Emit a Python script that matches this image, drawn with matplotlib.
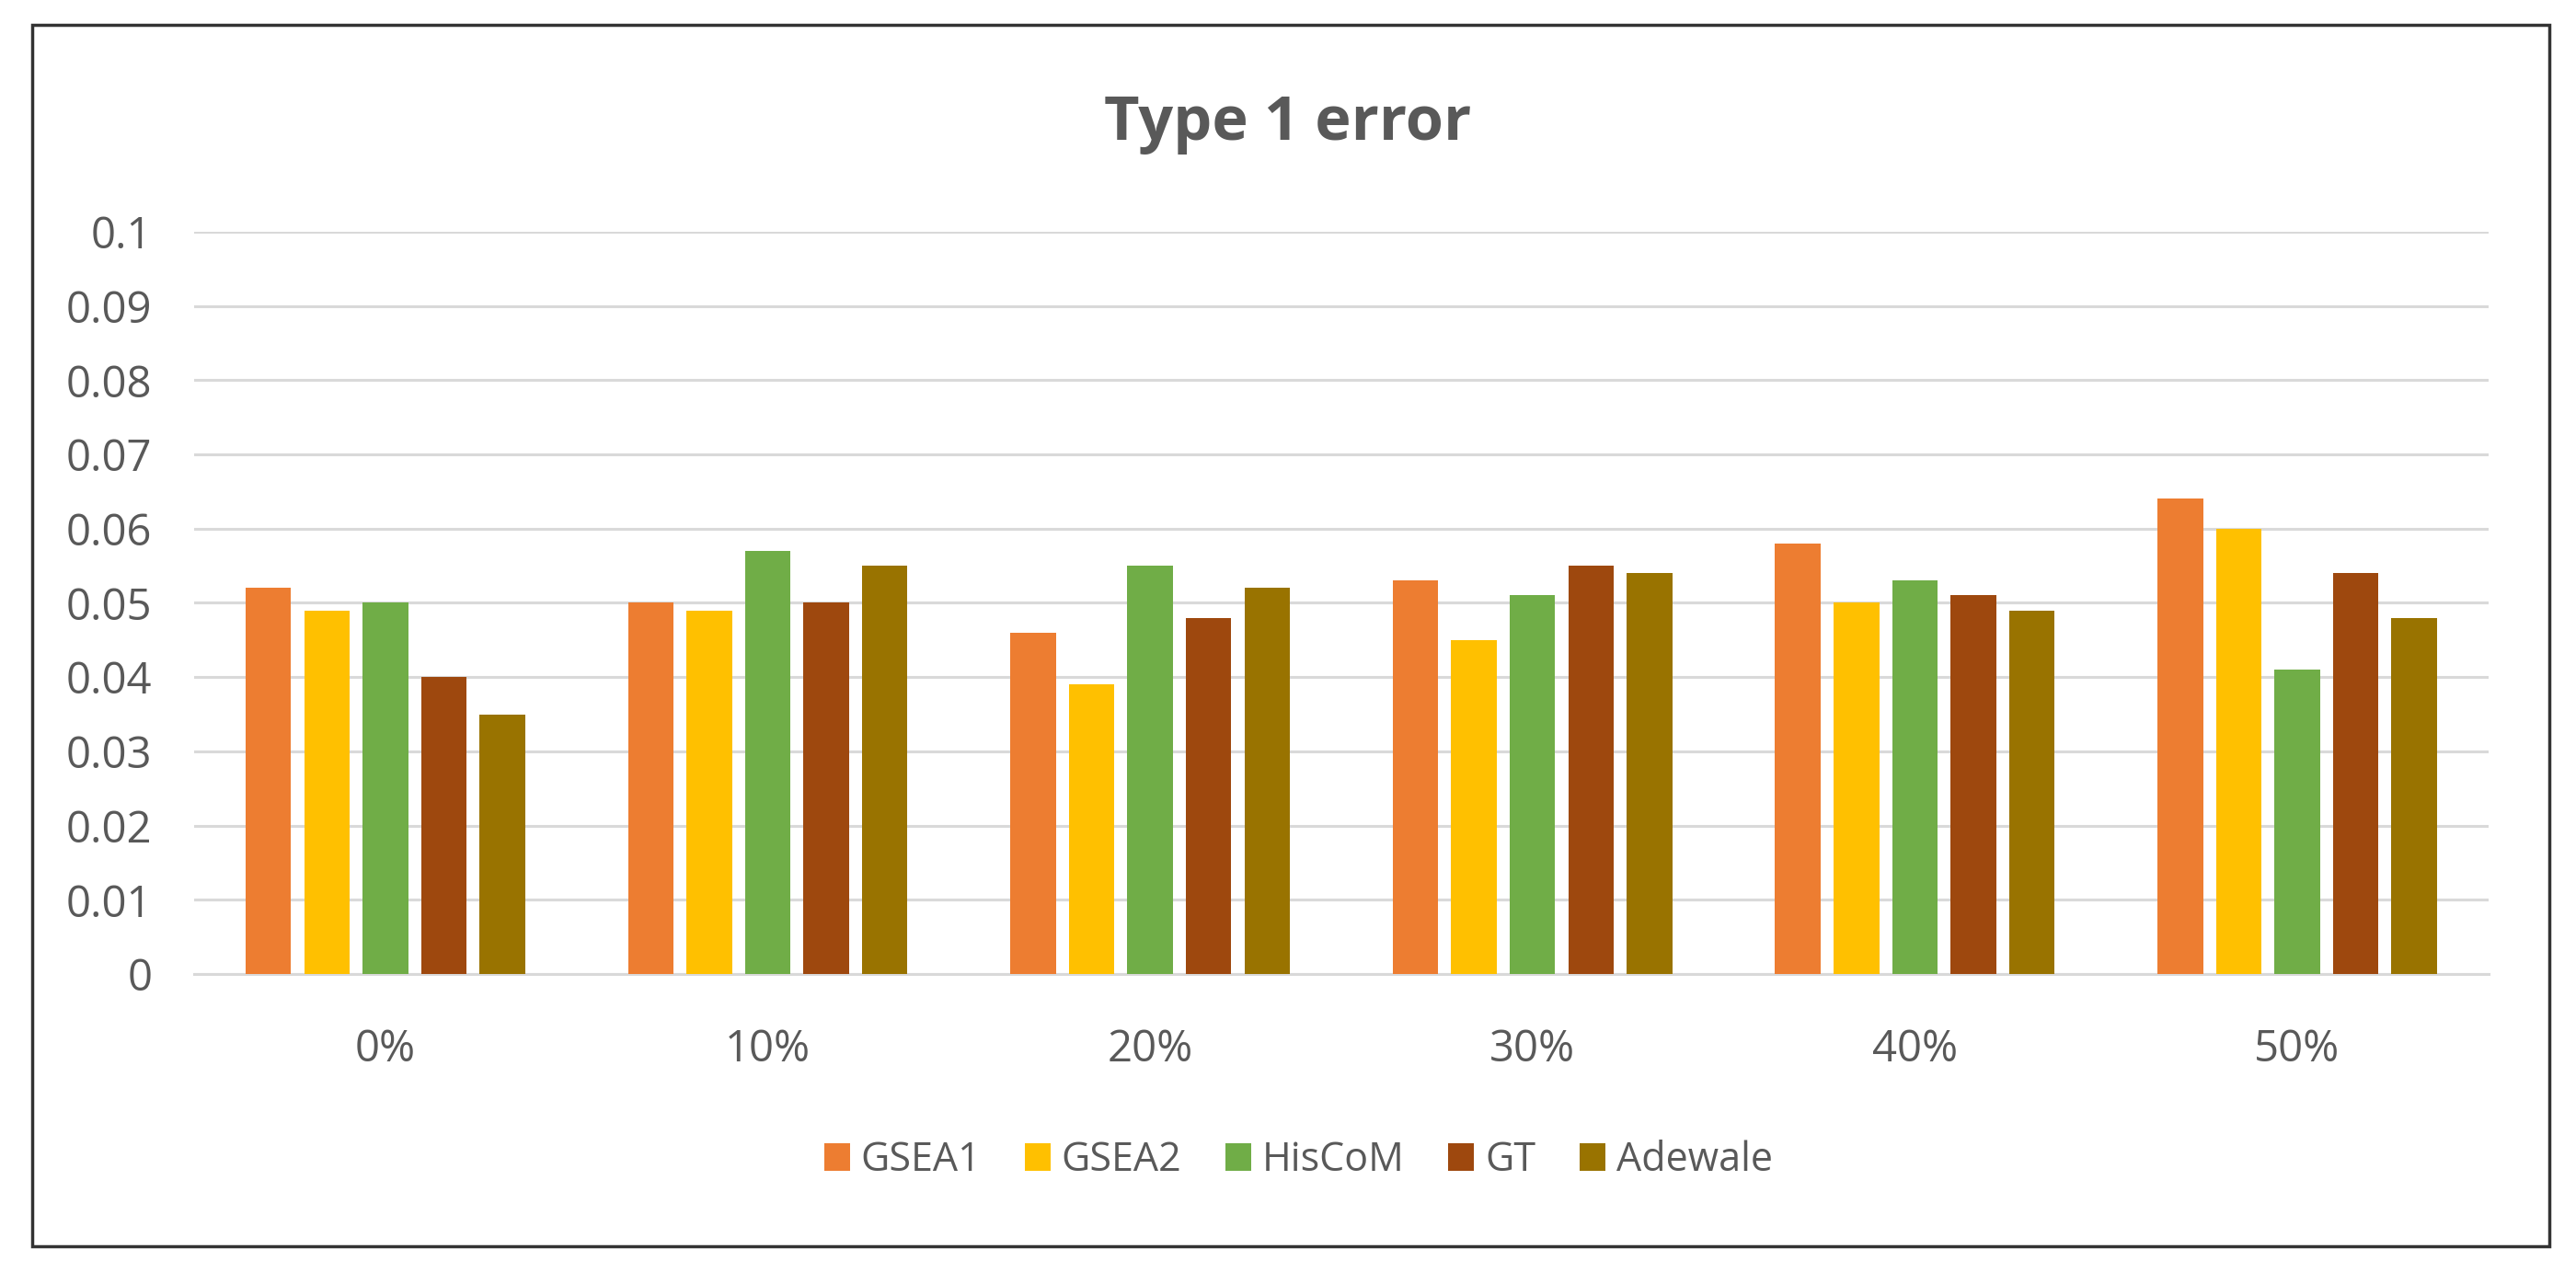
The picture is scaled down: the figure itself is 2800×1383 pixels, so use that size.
import matplotlib
matplotlib.use("Agg")
from matplotlib import pyplot as plt
from matplotlib.patches import Rectangle
import numpy as np

# data
categories = ["0%", "10%", "20%", "30%", "40%", "50%"]
methods = ["GSEA1", "GSEA2", "HisCoM", "GT", "Adewale"]
gsea1 = [0.052, 0.050, 0.046, 0.053, 0.058, 0.064]
gsea2 = [0.049, 0.049, 0.039, 0.045, 0.050, 0.060]
hiscom = [0.050, 0.057, 0.055, 0.051, 0.053, 0.041]
gt = [0.040, 0.050, 0.048, 0.055, 0.051, 0.054]
adewale = [0.035, 0.055, 0.052, 0.054, 0.049, 0.048]
yticks = [0, 0.01, 0.02, 0.03, 0.04, 0.05, 0.06, 0.07, 0.08, 0.09, 0.1]
ytick_labels = ["0", "0.01", "0.02", "0.03", "0.04", "0.05", "0.06", "0.07", "0.08", "0.09", "0.1"]

series = [gsea1, gsea2, hiscom, gt, adewale]
colors = ["#ED7D31", "#FFC000", "#70AD47", "#9E480E", "#997300"]
grey = "#595959"

plt.rcParams['font.family'] = ["Open Sans", "DejaVu Sans"]

fig = plt.figure(figsize=(28, 13.83), dpi=100)
ax = fig.add_axes([0.0754, 0.2343, 0.8906, 0.5835])

x = np.arange(len(categories))
step = 0.153
width = 0.119
for i in range(len(methods)):
    ax.bar(x + (i - 2) * step, series[i], width=width, color=colors[i],
           label=methods[i], zorder=3)

ax.set_xlim(-0.5, 5.5)
ax.set_ylim(0, 0.1)
ax.set_yticks(yticks)
ax.set_yticklabels(ytick_labels)
ax.set_xticks(x)
ax.set_xticklabels(categories)
ax.tick_params(axis="both", length=0, labelsize=34, colors=grey)
ax.tick_params(axis="y", pad=33)
ax.tick_params(axis="x", pad=42)
ax.grid(True, axis="y", color="#d9d9d9", linewidth=2.2, zorder=0)
for s in ["top", "right", "left"]:
    ax.spines[s].set_visible(False)
ax.spines["bottom"].set_color("#d9d9d9")
ax.spines["bottom"].set_linewidth(2.2)

fig.text(0.5, 0.903, "Type 1 error", ha="center", va="center",
         fontsize=48, fontweight="bold", color=grey)

leg = fig.legend(loc="center", bbox_to_anchor=(0.504, 0.0875), ncol=5,
                 frameon=False, fontsize=31, handlelength=0.65, handleheight=0.7,
                 handletextpad=0.28, columnspacing=1.1)
for t in leg.get_texts():
    t.set_color(grey)

# outer frame
fig.patches.append(Rectangle((35 / 2800, 1 - 1355 / 1383), (2771 - 35) / 2800,
                             (1355 - 27) / 1383, transform=fig.transFigure,
                             fill=False, edgecolor="#333333", linewidth=2.5))

fig.savefig("out.png", dpi=100, facecolor="white")
